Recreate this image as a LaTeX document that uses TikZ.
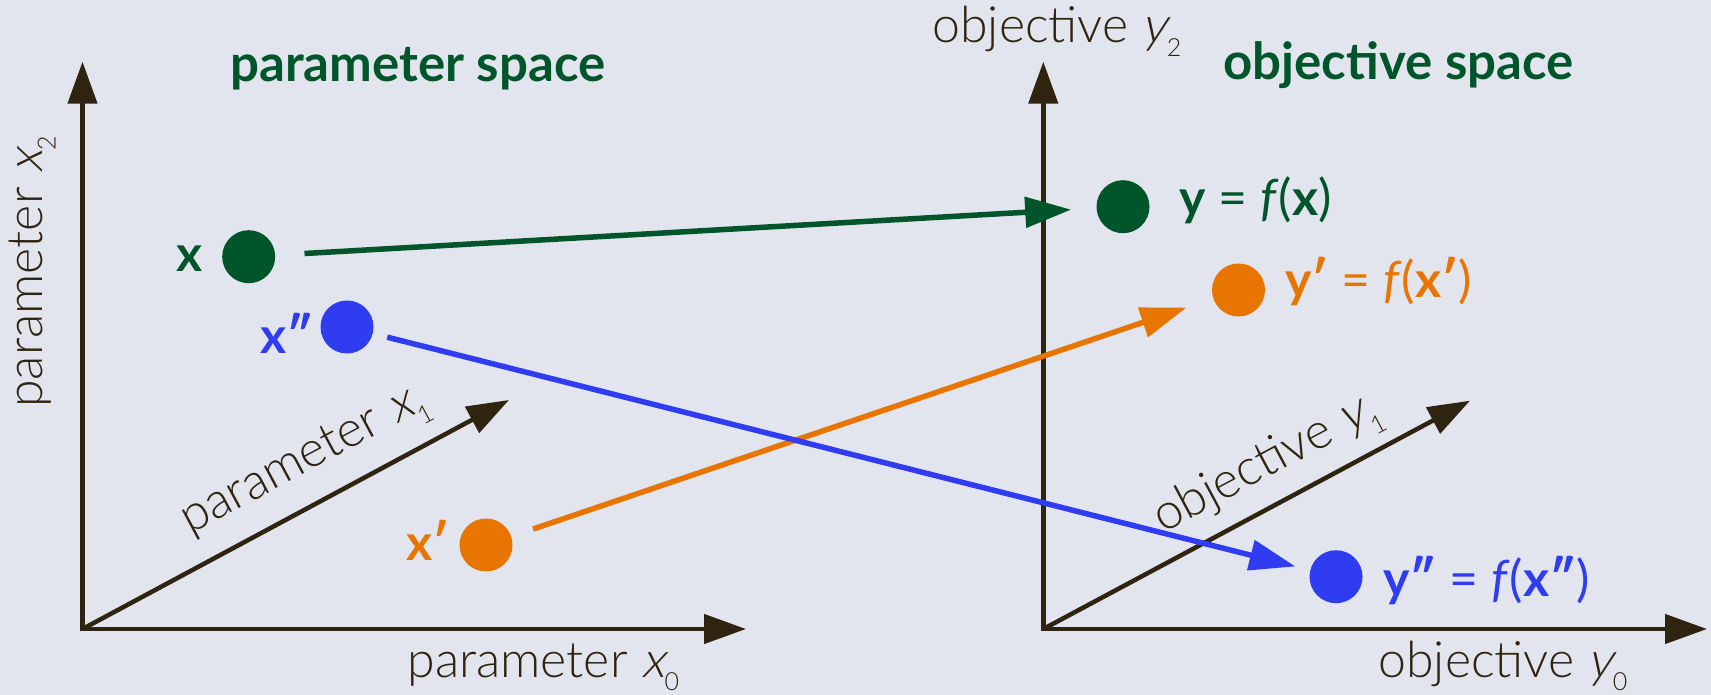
\documentclass[tikz,border=0pt]{standalone}
\usepackage{fontspec}
\setmainfont{Lato}
\newfontfamily\lightfont{Lato Light}[ItalicFont={Lato Light}, ItalicFeatures={FakeSlant=0.22}]
\usetikzlibrary{arrows.meta}
\definecolor{bg}{HTML}{E2E5ED}
\definecolor{axc}{HTML}{2E2410}
\definecolor{dgreen}{HTML}{00552B}
\definecolor{orng}{HTML}{E87500}
\definecolor{blu}{HTML}{2F3CF0}
\newcommand\lsub[1]{\raisebox{-0.27em}{\fontsize{12.5pt}{12.5pt}\selectfont #1}}
\newcommand\pr{′}
\newcommand\dpr{″}
\begin{document}
\begin{tikzpicture}[x=0.5pt,y=-0.5pt,
  axis/.style={draw=axc, line width=2.25pt, line join=miter, -{Triangle[length=21pt,width=14.5pt]}},
  axlab/.style={text=axc, font=\lightfont\fontsize{25pt}{30pt}\selectfont, inner sep=0pt},
  ttl/.style={text=dgreen, font=\bfseries\fontsize{25.5pt}{30pt}\selectfont, inner sep=0pt},
  dot/.style={circle, minimum size=26.5pt, inner sep=0pt, fill=#1},
  ptlab/.style={text=#1, font=\fontsize{25pt}{30pt}\selectfont, inner sep=0pt},
  conn/.style={draw=#1, line width=2.75pt, -{Triangle[length=23pt,width=15pt]}}]
\useasboundingbox[fill=bg] (0,0) rectangle (1711,695);
% axes left
\coordinate (o1) at (82.5,629);
\coordinate (y1t) at (82.5,61.7);
\coordinate (x1t) at (746,629);
\coordinate (d1t) at (509,400);
\draw[axis,{Triangle[length=21pt,width=14.5pt]}-{Triangle[length=21pt,width=14.5pt]}] (y1t) -- (o1) -- (x1t);
\draw[axis] (o1) -- (d1t);
% axes right
\coordinate (o2) at (1043.3,629);
\coordinate (y2t) at (1043.3,61.7);
\coordinate (x2t) at (1707,629);
\coordinate (d2t) at (1470,400.7);
\draw[axis,{Triangle[length=21pt,width=14.5pt]}-{Triangle[length=21pt,width=14.5pt]}] (y2t) -- (o2) -- (x2t);
\draw[axis] (o2) -- (d2t);
% axis labels
\node[axlab, anchor=base west, rotate=90] (lx2) at (42,408) {parameter \textit{x}\lsub{2}};
\node[axlab, anchor=base west] (lx0) at (407,677) {parameter \textit{x}\lsub{0}};
\node[axlab, anchor=base, rotate=28.1] (lx1) at (310,470.6) {parameter \textit{x}\lsub{1}};
\node[axlab, anchor=base west] (ly2) at (932,43) {objective \textit{y}\lsub{2}};
\node[axlab, anchor=base west] (ly0) at (1378,677) {objective \textit{y}\lsub{0}};
\node[axlab, anchor=base, rotate=28.1] (ly1) at (1273,475) {objective \textit{y}\lsub{1}};
% titles
\node[ttl, anchor=base west] (tp) at (230,82) {parameter space};
\node[ttl, anchor=base west] (to) at (1223,80) {objective space};
% dots
\node[dot=dgreen] (x) at (248.7,256.7) {};
\node[dot=blu] (xpp) at (347,327) {};
\node[dot=orng] (xp) at (486,545) {};
\node[dot=dgreen] (y) at (1123,206.7) {};
\node[dot=orng] (yp) at (1238.5,290) {};
\node[dot=blu] (ypp) at (1336,576.7) {};
% point labels
\node[ptlab=dgreen, anchor=base east] (lx) at (203,271.5) {\bfseries x};
\node[ptlab=blu, anchor=base west] (lxpp) at (260,353) {\bfseries x\dpr};
\node[ptlab=orng, anchor=base west] (lxp) at (406,560) {\bfseries x\pr};
\node[ptlab=dgreen, anchor=base west] (ly) at (1179,216) {{\bfseries y} = \textit{f}({\bfseries x})};
\node[ptlab=orng, anchor=base west] (lyp) at (1285,297) {{\bfseries y\pr} = \textit{f}({\bfseries x\pr})};
\node[ptlab=blu, anchor=base west] (lypp) at (1383,596.7) {{\bfseries y\dpr} = \textit{f}({\bfseries x\dpr})};
% connectors
\draw[conn=dgreen, shorten <=14.5pt, shorten >=12.5pt] (x) -- (y);
\draw[conn=orng, shorten <=11.4pt, shorten >=14pt] (xp) -- (yp);
\draw[conn=blu, shorten <=7.3pt, shorten >=7.5pt] (xpp) -- (ypp);
\end{tikzpicture}
\end{document}
